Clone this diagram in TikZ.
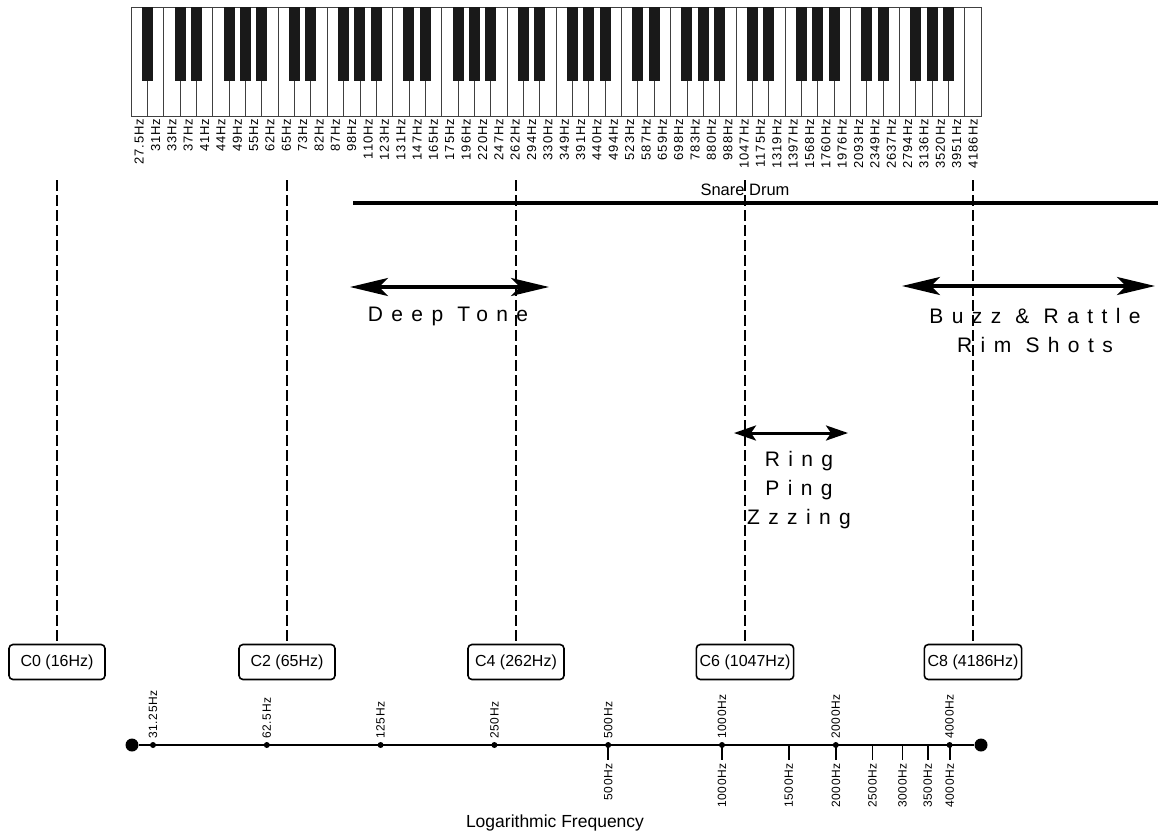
\documentclass[tikz,border=0pt]{standalone}
\usepackage{fontspec}
\setmainfont{Liberation Sans}
\newfontfamily\tickfont[LetterSpace=6]{Liberation Sans}
\newfontfamily\axisfont[LetterSpace=5]{Liberation Sans}
\newfontfamily\widefont[LetterSpace=40]{Liberation Sans}
\usetikzlibrary{arrows.meta, positioning, calc}

\begin{document}
\begin{tikzpicture}[x=1pt, y=-1pt, semithick]
	\tikzstyle{whitekey}=[draw=black!75, line width=0.8pt, fill=white]
	\tikzstyle{blackkey}=[fill=black!90]
	\tikzstyle{keylabel}=[font=\tickfont\fontsize{13}{13}\selectfont, rotate=90, anchor=east, inner sep=0pt]
	\tikzstyle{octave}=[draw, rounded corners=4pt, line width=1.6pt, minimum width=96pt, minimum height=35pt, font=\fontsize{16}{16}\selectfont]
	\tikzstyle{cline}=[line width=1.5pt, dash pattern=on 11pt off 4pt]
	\tikzstyle{band}=[font=\widefont\fontsize{21}{29}\selectfont, align=center, inner sep=0pt]
	\tikzstyle{spanarrow}=[line width=3.5pt, {Stealth[length=38pt,width=18pt,inset=9pt]}-{Stealth[length=38pt,width=18pt,inset=9pt]}]
	\tikzstyle{smallspan}=[line width=3pt, {Stealth[length=22pt,width=15pt,inset=5pt]}-{Stealth[length=22pt,width=15pt,inset=5pt]}]
	\tikzstyle{freqlabel}=[font=\axisfont\fontsize{12}{12}\selectfont, rotate=90, inner sep=0pt]
	\tikzstyle{freqdot}=[circle, fill, inner sep=0pt, minimum size=6pt]
	\tikzstyle{enddot}=[circle, fill, inner sep=0pt, minimum size=13pt]

	\useasboundingbox (0,0) rectangle (1165,836);

	% keyboard, 52 white keys from A0 up to C8
	\def\kw{16.35}
	\foreach \i in {0,...,51}
		\draw[whitekey] ({131+\kw*\i},7) rectangle ({131+\kw*(\i+1)},116);
	\foreach \i in {0,...,50} {
		\pgfmathtruncatemacro\n{mod(\i+5,7)}
		\ifnum\n=2 \else \ifnum\n=6 \else
			\fill[blackkey] ({131+\kw*(\i+1)-5.5},7) rectangle ({131+\kw*(\i+1)+5.5},81);
		\fi\fi
	}
	\foreach \f [count=\k from 0] in {27.5,31,33,37,41,44,49,55,62,65,73,82,87,98,110,123,131,147,165,175,196,220,247,262,294,330,349,391,440,494,523,587,659,698,783,880,988,1047,1175,1319,1397,1568,1760,1976,2093,2349,2637,2794,3136,3520,3951,4186}
		\node[keylabel] (k\k) at ({131+\kw*(\k+0.5)},119) {\f Hz};

	% the C of every second octave
	\foreach \oct/\f/\cx in {0/16/57,2/65/287,4/262/516,6/1047/745,8/4186/973} {
		\node[octave] (c\oct) at (\cx,662) {C\oct{} (\f Hz)};
		\coordinate (t\oct) at (\cx,180);
		\draw[cline] (t\oct) -- (c\oct.north);
	}

	% ranges of the drum
	\coordinate (s1) at (353,203);
	\coordinate (s2) at (1158,203);
	\draw[line width=3.5pt] (s1) -- (s2);
	\node[font=\fontsize{16.5}{16.5}\selectfont] (snare) at (745,190) {Snare Drum};

	\coordinate (d1) at (350,287);
	\coordinate (d2) at (549,287);
	\draw[spanarrow] (d1) -- (d2);
	\node[band] (deep) at (448,316) {Deep Tone};

	\coordinate (b1) at (902,286);
	\coordinate (b2) at (1155,286);
	\draw[spanarrow] (b1) -- (b2);
	\node[band] (buzz) at (1035,330) {Buzz \& Rattle\\Rim Shots};

	\coordinate (r1) at (734,433);
	\coordinate (r2) at (848,433);
	\draw[smallspan] (r1) -- (r2);
	\node[band] (ring) at (799,490) {Ring\\Ping\\Zzzing};

	% frequency axis
	\node[enddot] (a0) at (132,745) {};
	\node[enddot] (a1) at (981,745) {};
	\draw[line width=1.8pt] (a0) -- (a1);
	\foreach \f [count=\k from 0] in {500,1000,1500,2000,2500,3000,3500,4000} {
		\pgfmathsetmacro\lx{153+113.8*ln(\f/31.25)/ln(2)}
		\coordinate (q\k) at (\lx,745);
		\coordinate (qe\k) at (\lx,760);
		\draw[line width=1.8pt] (q\k) -- (qe\k);
		\node[freqlabel, anchor=east] (l\k) at (\lx,763) {\f Hz};
	}
	\foreach \f [count=\k from 0] in {31.25,62.5,125,250,500,1000,2000,4000} {
		\node[freqdot] (p\k) at ({153+113.8*\k},745) {};
		\node[freqlabel, anchor=west] (u\k) at ({153+113.8*\k},739) {\f Hz};
	}
	\node[font=\fontsize{17.5}{17.5}\selectfont] (axis) at (555,823) {Logarithmic Frequency};
\end{tikzpicture}
\end{document}
